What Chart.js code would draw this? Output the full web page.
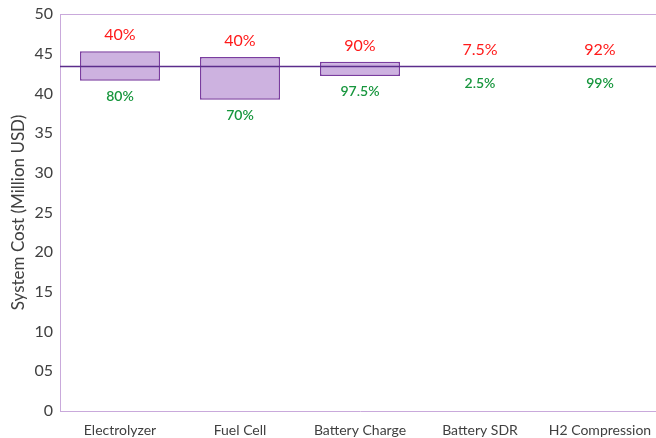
<!DOCTYPE html>
<html>
<head>
<meta charset="utf-8">
<script src="https://cdn.jsdelivr.net/npm/chart.js@4/dist/chart.umd.min.js"></script>
<style>
  html, body { margin: 0; padding: 0; background: #fff; overflow: hidden; }
  #wrap { width: 656px; height: 438px; overflow: hidden; }
</style>
</head>
<body>
<div id="wrap"><canvas id="chart" width="660" height="438"></canvas></div>
<script>
const categories = ['Electrolyzer', 'Fuel Cell', 'Battery Charge', 'Battery SDR', 'H2 Compression'];
const lowCost = [41.6, 39.2, 42.2, 43.32, 43.28];
const highCost = [45.3, 44.6, 44.0, 43.48, 43.42];
const upperLabels = ['40%', '40%', '90%', '7.5%', '92%'];
const lowerLabels = ['80%', '70%', '97.5%', '2.5%', '99%'];
const baseCost = 43.4;
const yTicks = [0, 5, 10, 15, 20, 25, 30, 35, 40, 45, 50];

const FONT = 'Lato, "Open Sans", sans-serif';
const axisColor = '#c9a9db';

const ranges = categories.map((c, i) => [lowCost[i], highCost[i]]);

// baseline, top frame and the percent labels
const extras = {
    id: 'extras',
    afterDatasetsDraw(chart) {
        const {ctx, chartArea, scales: {y}} = chart;
        ctx.save();
        ctx.strokeStyle = axisColor;
        ctx.lineWidth = 1;
        ctx.beginPath();
        ctx.moveTo(chartArea.left, chartArea.top + 0.5);
        ctx.lineTo(chartArea.right, chartArea.top + 0.5);
        ctx.stroke();

        const by = y.getPixelForValue(baseCost);
        ctx.strokeStyle = '#5c2d8c';
        ctx.lineWidth = 1.5;
        ctx.beginPath();
        ctx.moveTo(chartArea.left, by);
        ctx.lineTo(chartArea.right, by);
        ctx.stroke();

        const meta = chart.getDatasetMeta(0);
        ctx.textAlign = 'center';
        ctx.textBaseline = 'middle';
        meta.data.forEach((bar, i) => {
            const top = Math.min(bar.y, bar.base);
            const bottom = Math.max(bar.y, bar.base);
            ctx.font = '16px ' + FONT;
            ctx.fillStyle = '#ff1a1a';
            ctx.fillText(upperLabels[i], bar.x, top - 16);
            ctx.font = '600 14px ' + FONT;
            ctx.fillStyle = '#17963d';
            ctx.fillText(lowerLabels[i], bar.x, bottom + 16);
        });
        ctx.restore();
    }
};

new Chart(document.getElementById('chart'), {
    type: 'bar',
    data: {
        labels: categories,
        datasets: [{
            data: ranges,
            backgroundColor: '#cdb2e0',
            borderColor: '#7a3d9f',
            borderWidth: 1.5,
            borderSkipped: false,
            barPercentage: 1,
            categoryPercentage: 0.667
        }]
    },
    options: {
        responsive: false,
        animation: false,
        layout: { padding: { top: 14, right: 0, left: 0, bottom: 0 } },
        plugins: {
            legend: { display: false },
            tooltip: { enabled: false }
        },
        scales: {
            x: {
                grid: { display: false, drawTicks: false },
                border: { display: true, color: axisColor, width: 1 },
                ticks: { color: '#404040', font: { family: FONT, size: 14 }, padding: 11, maxRotation: 0 },
                afterFit(scale) { scale.height = 27; scale.paddingLeft = 0; scale.paddingRight = 0; }
            },
            y: {
                min: 0,
                max: 50,
                afterBuildTicks(scale) { scale.ticks = yTicks.map(v => ({value: v})); },
                grid: { display: false, drawTicks: false },
                border: { display: true, color: axisColor, width: 1 },
                ticks: {
                    color: '#404040',
                    font: { family: FONT, size: 16 },
                    padding: 7,
                    callback: v => v === 0 ? '0' : String(v).padStart(2, '0')
                },
                title: {
                    display: true,
                    text: 'System Cost (Million USD)',
                    color: '#404040',
                    font: { family: FONT, size: 17 },
                    padding: { top: 8, bottom: 0 }
                },
                afterFit(scale) { scale.width = 60; scale.paddingTop = 0; scale.paddingBottom = 0; }
            }
        }
    },
    plugins: [extras]
});
</script>
</body>
</html>
